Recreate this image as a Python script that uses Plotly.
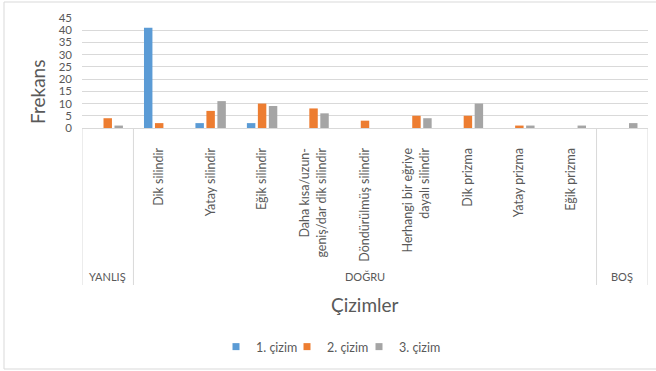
import plotly.graph_objects as go

# Category labels (inner level) and their groups (outer level)
categories = [
    "",
    "Dik silindir",
    "Yatay silindir",
    "Eğik silindir",
    "Daha kısa/uzun-<br>geniş/dar dik silindir",
    "Döndürülmüş silindir",
    "Herhangi bir eğriye<br>dayalı silindir",
    "Dik prizma",
    "Yatay prizma",
    "Eğik prizma",
    "",
]
groups = ["YANLIŞ", "DOĞRU", "BOŞ"]
group_sizes = [1, 9, 1]

# Frequencies per drawing
cizim1 = [0, 41, 2, 2, 0, 0, 0, 0, 0, 0, 0]
cizim2 = [4, 2, 7, 10, 8, 3, 5, 5, 1, 0, 0]
cizim3 = [1, 0, 11, 9, 6, 0, 4, 10, 1, 1, 2]
series_names = ["1. çizim", "2. çizim", "3. çizim"]
colors = ["#5B9BD5", "#ED7D31", "#A5A5A5"]
y_ticks = list(range(0, 46, 5))

W, H = 656, 371
L, R, T, B = 82, 8, 18, 243
PW, PH = W - L - R, H - T - B
FONT = "Lato"
TXT = "#595959"
LINE = "#D9D9D9"


def ypaper(px):
    """Convert a pixel row to paper y."""
    return (H - B - px) / PH


def xpaper(px):
    """Convert a pixel column to paper x."""
    return (px - L) / PW


xs = list(range(len(categories)))
legend_ids = ["legend", "legend2", "legend3"]

fig = go.Figure()
for name, vals, col, lg in zip(series_names, [cizim1, cizim2, cizim3],
                               colors, legend_ids):
    fig.add_trace(go.Bar(x=xs, y=vals, name=name, marker_color=col,
                         marker_line_width=0, showlegend=False))
    # small square legend key, one legend box per series
    fig.add_trace(go.Scatter(x=[None], y=[None], mode="markers", name=name,
                             legend=lg,
                             marker=dict(symbol="square", size=7, color=col)))

shapes = []
# group separators below the category axis
bounds = [-0.5]
for n in group_sizes:
    bounds.append(bounds[-1] + n)
for b in bounds:
    shapes.append(dict(type="line", xref="x", yref="paper", x0=b, x1=b,
                       y0=0, y1=ypaper(285), line=dict(color=LINE, width=1)))
# chart frame
shapes.append(dict(type="rect", xref="paper", yref="paper",
                   x0=xpaper(4), x1=xpaper(W + 5), y0=ypaper(369), y1=ypaper(2),
                   line=dict(color=LINE, width=1), fillcolor="rgba(0,0,0,0)",
                   layer="below"))

annotations = []
start = 0
for g, n in zip(groups, group_sizes):
    center = start + (n - 1) / 2
    annotations.append(dict(x=center, xref="x", y=ypaper(276), yref="paper",
                            text=g, showarrow=False, yanchor="middle",
                            font=dict(family=FONT, size=11, color=TXT)))
    start += n
annotations.append(dict(x=0.5, xref="paper", y=ypaper(304), yref="paper",
                        text="Çizimler", showarrow=False, yanchor="middle",
                        font=dict(family=FONT, size=19, color=TXT)))
annotations.append(dict(x=xpaper(37), xref="paper", y=ypaper(92), yref="paper",
                        text="Frekans", showarrow=False, textangle=-90,
                        xanchor="center", yanchor="middle",
                        font=dict(family=FONT, size=19, color=TXT)))

legend_style = dict(orientation="h", xref="container", yref="container",
                    xanchor="left", yanchor="middle", y=1 - 347 / H,
                    font=dict(family=FONT, size=12.5, color=TXT),
                    itemwidth=30, bgcolor="rgba(0,0,0,0)")
legend_left = [216, 287, 359]

layout_legends = {lg: dict(legend_style, x=lx / W)
                  for lg, lx in zip(legend_ids, legend_left)}

fig.update_layout(
    width=W, height=H,
    margin=dict(l=L, r=R, t=T, b=B),
    paper_bgcolor="white", plot_bgcolor="white",
    barmode="group", bargap=0.36, bargroupgap=0.23,
    font=dict(family=FONT, color=TXT),
    shapes=shapes, annotations=annotations,
    xaxis=dict(range=[-0.5, 10.5], tickmode="array", tickvals=xs,
               ticktext=categories, tickangle=-90, showgrid=False,
               showline=True, linecolor=LINE, linewidth=1, ticks="",
               ticklabelstandoff=14, automargin=False,
               tickfont=dict(family=FONT, size=12.5, color=TXT)),
    yaxis=dict(range=[0, 45], tickmode="array", tickvals=y_ticks,
               showgrid=True, gridcolor=LINE, gridwidth=1, zeroline=False,
               showline=False, ticks="", ticklabelstandoff=9,
               automargin=False,
               tickfont=dict(family=FONT, size=11.5, color=TXT)),
    **layout_legends,
)

fig.write_html("out.html")
